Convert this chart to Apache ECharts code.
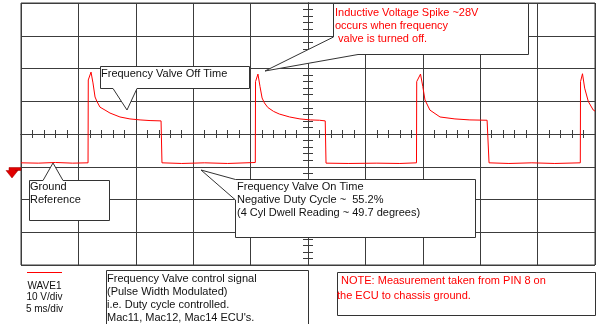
<!DOCTYPE html>
<html><head><meta charset="utf-8">
<script src="https://cdn.jsdelivr.net/npm/echarts@6/dist/echarts.min.js"></script>
<style>html,body{margin:0;padding:0;background:#fff}#c{width:600px;height:324px}</style>
</head><body><div id="c"></div>
<script>
// time in ms (5 ms/div), voltage in V (10 V/div), ground = 0 V
const traceTimeMs = [
  0, 1.5, 3.0, 4.5, 5.84,
  5.86, 6.10, 6.27, 6.45, 6.62, 6.88, 7.32, 7.75, 8.62, 9.49, 10.37, 11.24, 12.20, 12.28,
  14.0, 16.0, 18.0, 20.41,
  20.43, 20.64, 20.82, 21.0, 21.2, 21.5, 22.0, 22.5, 23.4, 24.3, 25.2, 26.0, 26.50, 26.57,
  28.5, 31.0, 33.0, 34.45,
  34.47, 34.80, 35.0, 35.19, 35.62, 36.50, 37.80, 39.10, 40.60, 40.77,
  42.5, 44.5, 46.5, 48.72,
  48.74, 48.91, 49.10, 49.42, 49.85, 50.0
];
const traceVolts = [
  1.2, 1.1, 1.3, 1.1, 1.2,
  26.5, 28.9, 25.6, 21.3, 19.9, 18.2, 17.3, 16.4, 15.2, 14.6, 14.3, 14.1, 14.0, 1.2,
  1.0, 1.2, 1.0, 1.3,
  26.0, 28.3, 24.5, 21.0, 19.5, 18.1, 16.9, 16.1, 15.2, 14.6, 14.3, 14.2, 14.0, 1.1,
  1.0, 1.1, 1.0, 1.2,
  26.0, 28.3, 24.5, 20.4, 17.3, 15.2, 14.6, 14.3, 14.2, 1.2,
  1.0, 1.2, 1.0, 1.2,
  26.0, 28.4, 24.0, 19.9, 17.3, 17.0
];
const xRange = [0, 50], xStep = 5;      // ms
const yRange = [-30, 50], yStep = 10;   // V
const legendLines = ['WAVE1', '10 V/div', '5 ms/div'];
const spikeNote = ['Inductive Voltage Spike ~28V', 'occurs when frequency', ' valve is turned off.'];
const offNote = ['Frequency Valve Off Time'];
const groundNote = ['Ground', 'Reference'];
const onNote = ['Frequency Valve On Time', 'Negative Duty Cycle ~  55.2%', '(4 Cyl Dwell Reading ~ 49.7 degrees)'];
const signalNote = ['Frequency Valve control signal', '(Pulse Width Modulated)', 'i.e. Duty cycle controlled.', 'Mac11, Mac12, Mac14 ECU\'s.'];
const pinNote = [' NOTE: Measurement taken from PIN 8 on', 'the ECU to chassis ground.'];

const GRID = '#3c3c3c';
const FONT = '"Liberation Sans", Arial, sans-serif';
const chart = echarts.init(document.getElementById('c'), null, {renderer: 'canvas'});

function txt(lines, x, y, color, size, lh, align) {
  return {type: 'text', z: 110, style: {text: lines.join('\n'), x: x, y: y, fill: color,
    fontSize: size, fontFamily: FONT, lineHeight: lh, verticalAlign: 'top', align: align || 'left'}};
}
function poly(points) {
  return {type: 'polygon', z: 100, shape: {points: points},
    style: {fill: '#fff', stroke: '#333', lineWidth: 1}};
}
const centerAxisCommon = {
  show: true, axisLabel: {show: false}, splitLine: {show: false},
  axisLine: {show: true, onZero: true, lineStyle: {color: GRID, width: 1}},
  axisTick: {show: true, inside: true, length: 4, lineStyle: {color: GRID}},
  minorTick: {show: true, splitNumber: 5, length: 4, lineStyle: {color: GRID}}
};

chart.setOption({
  animation: false,
  backgroundColor: '#fff',
  grid: [
    {left: 21, top: 3, width: 574, height: 262, show: true, borderColor: GRID, borderWidth: 1, backgroundColor: 'transparent'},
    {left: 21, top: 3, width: 574, height: 262, show: false}
  ],
  xAxis: [
    {type: 'value', gridIndex: 0, min: xRange[0], max: xRange[1], interval: xStep,
      axisLine: {show: false}, axisTick: {show: false}, axisLabel: {show: false},
      splitLine: {show: true, lineStyle: {color: GRID, width: 1}}},
    Object.assign({type: 'value', gridIndex: 1, min: -25, max: 25, interval: 5, position: 'bottom'}, centerAxisCommon),
    Object.assign({type: 'value', gridIndex: 1, min: -25, max: 25, interval: 5, position: 'top'}, centerAxisCommon)
  ],
  yAxis: [
    {type: 'value', gridIndex: 0, min: yRange[0], max: yRange[1], interval: yStep,
      axisLine: {show: false}, axisTick: {show: false}, axisLabel: {show: false},
      splitLine: {show: true, lineStyle: {color: GRID, width: 1}}},
    Object.assign({type: 'value', gridIndex: 1, min: -40, max: 40, interval: 10, position: 'left'}, centerAxisCommon, {axisTick: {show: true, inside: true, length: 5, lineStyle: {color: GRID}}, minorTick: {show: true, splitNumber: 5, length: 5, lineStyle: {color: GRID}}}),
    Object.assign({type: 'value', gridIndex: 1, min: -40, max: 40, interval: 10, position: 'right'}, centerAxisCommon, {axisTick: {show: true, inside: true, length: 5, lineStyle: {color: GRID}}, minorTick: {show: true, splitNumber: 5, length: 5, lineStyle: {color: GRID}}})
  ],
  series: [{
    type: 'line', xAxisIndex: 0, yAxisIndex: 0, showSymbol: false, symbol: 'none',
    lineStyle: {color: '#ff0000', width: 1}, z: 5,
    data: traceTimeMs.map((t, i) => [t, traceVolts[i]])
  }],
  graphic: [
    // ground marker
    {type: 'polygon', z: 100, shape: {points: [[21, 167.5], [21, 170.5], [15, 170.5], [18, 170.5], [12, 178], [6, 170.5], [9, 170.5], [9, 167.5]]},
      style: {fill: '#e00000', stroke: '#a00000', lineWidth: 0.5}},
    poly([[100.5, 66.5], [249.5, 66.5], [249.5, 88.5], [137, 88.5], [127, 110], [113, 88.5], [100.5, 88.5]]),
    txt(offNote, 101, 67.5, '#111', 11, 13),
    poly([[333.5, 3.5], [528.5, 3.5], [528.5, 54.5], [358, 54.5], [265, 71], [333.5, 37]]),
    txt(spikeNote, 335, 6.5, '#ff0000', 11, 13),
    poly([[29.5, 180.5], [43, 180.5], [53, 163], [63, 180.5], [109.5, 180.5], [109.5, 220.5], [29.5, 220.5]]),
    txt(groundNote, 30, 180.5, '#111', 11, 13),
    poly([[235.5, 179.5], [475.5, 179.5], [475.5, 237.5], [235.5, 237.5], [235.5, 200], [201, 170]]),
    txt(onNote, 237, 180.5, '#111', 11, 13),
    // bottom legend
    {type: 'line', z: 100, shape: {x1: 27, y1: 272.5, x2: 62, y2: 272.5}, style: {stroke: '#ff0000', lineWidth: 1}},
    txt(legendLines, 44.5, 280.5, '#111', 10, 11.3, 'center'),
    {type: 'rect', z: 100, shape: {x: 106.5, y: 270.5, width: 202, height: 70}, style: {fill: '#fff', stroke: '#333', lineWidth: 1}},
    txt(signalNote, 107, 272.5, '#111', 11, 13),
    {type: 'rect', z: 100, shape: {x: 337.5, y: 272.5, width: 258, height: 43}, style: {fill: '#fff', stroke: '#333', lineWidth: 1}},
    txt([pinNote[0]], 338, 274, '#ff0000', 11, 13),
    txt([pinNote[1]], 337, 289, '#ff0000', 11, 13)
  ]
});
</script></body></html>
